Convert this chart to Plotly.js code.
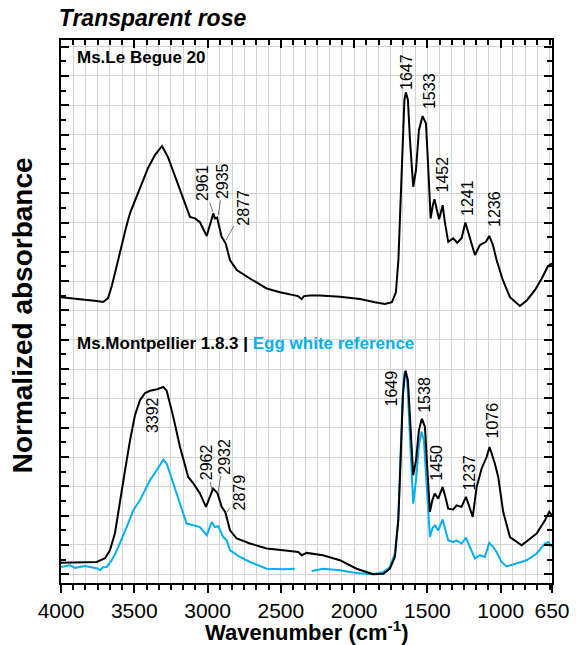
<!DOCTYPE html>
<html>
<head>
<meta charset="utf-8">
<script src="https://cdn.plot.ly/plotly-3.0.1.min.js"></script>
<style>html,body{margin:0;padding:0;background:#fff;}#chart{width:576px;height:645px;}</style>
</head>
<body>
<div id="chart"></div>
<script>
// ---- Data ----
const title = "Transparent rose";
const nameTop = "Ms.Le Begue 20";
const nameMont = "Ms.Montpellier 1.8.3";
const nameEgg = "Egg white reference";

// Ms.Le Begue 20 (offset spectrum)
const wnTop = [4000,3870,3756,3713,3679,3652,3618,3586,3557,3529,3495,3461,3406,3359,3325,3311,3270,3211,3166,3120,3086,3052,3006,2961,2950,2935,2904,2877,2847,2801,2711,2597,2506,2383,2358,2342,2301,2233,2097,1960,1858,1790,1742,1715,1698,1684,1671,1657,1647,1633,1619,1597,1578,1558,1533,1510,1497,1478,1463,1452,1435,1420,1396,1381,1358,1324,1297,1267,1241,1210,1176,1142,1101,1078,1053,1028,985,937,869,821,767,719,678,650];
const absTop = [0.945,0.939,0.932,0.929,0.942,0.986,1.055,1.130,1.181,1.232,1.276,1.321,1.386,1.430,1.454,1.461,1.423,1.345,1.287,1.219,1.214,1.201,1.154,1.231,1.214,1.217,1.151,1.129,1.072,1.038,1.009,0.975,0.962,0.949,0.939,0.949,0.951,0.951,0.947,0.939,0.928,0.922,0.928,0.962,1.072,1.276,1.481,1.618,1.644,1.618,1.481,1.322,1.379,1.515,1.563,1.538,1.413,1.214,1.259,1.279,1.242,1.211,1.259,1.201,1.134,1.146,1.131,1.146,1.200,1.151,1.089,1.123,1.134,1.154,1.123,1.072,1.003,0.945,0.915,0.935,0.969,1.010,1.051,1.061];

// Ms.Montpellier 1.8.3
const wnMont = [4000,3870,3756,3700,3666,3632,3598,3563,3529,3495,3461,3427,3393,3345,3302,3279,3234,3188,3132,3097,3052,3011,2962,2932,2904,2879,2847,2801,2711,2597,2484,2381,2358,2324,2213,2097,1983,1870,1801,1756,1722,1699,1688,1677,1667,1657,1649,1633,1619,1597,1578,1558,1538,1517,1500,1483,1466,1450,1426,1396,1377,1358,1324,1301,1267,1237,1221,1191,1164,1130,1096,1076,1040,1017,983,937,857,812,755,698,669,650];
const absMont = [0.039,0.041,0.042,0.055,0.082,0.140,0.253,0.355,0.457,0.543,0.594,0.618,0.626,0.631,0.639,0.626,0.537,0.434,0.332,0.310,0.276,0.230,0.292,0.276,0.230,0.212,0.150,0.122,0.105,0.088,0.082,0.076,0.065,0.073,0.065,0.048,0.019,0.000,0.002,0.019,0.059,0.184,0.321,0.491,0.611,0.669,0.694,0.662,0.526,0.338,0.389,0.491,0.531,0.503,0.355,0.213,0.253,0.275,0.258,0.298,0.263,0.224,0.221,0.235,0.230,0.264,0.241,0.196,0.298,0.361,0.400,0.434,0.378,0.332,0.213,0.127,0.099,0.116,0.139,0.184,0.213,0.201];

// Egg white reference (gap = removed CO2 region)
const wnEgg = [4000,3939,3905,3870,3836,3802,3746,3734,3713,3688,3654,3625,3598,3552,3507,3461,3427,3393,3347,3302,3279,3234,3188,3143,3097,3052,3006,2972,2950,2927,2893,2870,2847,2779,2711,2597,2484,2404,2350,2290,2211,2097,1983,1870,1801,1756,1722,1699,1688,1677,1667,1657,1650,1636,1619,1597,1578,1558,1540,1524,1503,1483,1466,1449,1426,1396,1377,1358,1324,1301,1267,1237,1210,1176,1142,1108,1078,1051,1028,994,960,891,823,755,698,675,650];
const absEgg = [0.025,0.031,0.022,0.024,0.028,0.025,0.019,0.014,0.024,0.025,0.048,0.075,0.105,0.161,0.218,0.253,0.287,0.321,0.355,0.391,0.378,0.310,0.241,0.173,0.167,0.161,0.133,0.178,0.161,0.164,0.127,0.116,0.082,0.059,0.042,0.019,0.017,0.019,null,0.011,0.019,0.014,0.004,0.000,0.008,0.025,0.071,0.184,0.321,0.491,0.628,0.686,0.694,0.645,0.457,0.241,0.321,0.440,0.486,0.457,0.287,0.127,0.157,0.167,0.150,0.187,0.150,0.116,0.110,0.116,0.105,0.125,0.093,0.054,0.065,0.059,0.107,0.093,0.076,0.042,0.027,0.037,0.048,0.071,0.105,0.110,0.093];

// Peak labels
const topPeaks = ["2961","2935","2877","1647","1533","1452","1241","1236"];
const montPeaks = ["3392","2962","2932","2879","1649","1538","1450","1237","1076"];

const xTickVals = [4000,3500,3000,2500,2000,1500,1000,650];
const xTickText = ["4000","3500","3000","2500","2000","1500","1000","650"];

// ---- Label placement (layout) ----
// [text x, text y, leader target x, leader target y] ; null target = no leader
const topPlace = [
  [3031,1.335,2963,1.235],
  [2893,1.342,2927,1.225],
  [2752,1.250,2874,1.140],
  [1647,1.713,null,null],
  [1490,1.648,null,null],
  [1398,1.365,null,null],
  [1231,1.283,null,null],
  [1046,1.246,null,null]
];
const montPlace = [
  [3379,0.543,null,null],
  [3011,0.382,2970,0.287],
  [2886,0.402,2929,0.280],
  [2779,0.279,2868,0.212],
  [1746,0.635,null,null],
  [1520,0.614,null,null],
  [1439,0.382,null,null],
  [1214,0.348,null,null],
  [1057,0.526,null,null]
];

const FONT = "Liberation Sans, Arial, Helvetica, sans-serif";
const CYAN = "#00B0F0";
const GRID = "#d4d4d4";

const traces = [
  {x: wnEgg, y: absEgg, type: 'scatter', mode: 'lines', line: {color: CYAN, width: 2}, connectgaps: false, hoverinfo: 'skip'},
  {x: wnMont, y: absMont, type: 'scatter', mode: 'lines', line: {color: '#000', width: 2}, hoverinfo: 'skip'},
  {x: wnTop, y: absTop, type: 'scatter', mode: 'lines', line: {color: '#000', width: 2}, hoverinfo: 'skip'}
];

const minorVals = [];
for (let v = 4000; v >= 650; v -= 500/6) minorVals.push(v);

const annotations = [];
function addLabels(labels, place) {
  labels.forEach((t, i) => {
    const p = place[i];
    if (p[2] === null) {
      annotations.push({x: p[0], y: p[1], xref: 'x', yref: 'y', text: t, showarrow: false,
        textangle: -90, xanchor: 'center', yanchor: 'middle', font: {family: FONT, size: 16, color: '#000'}});
    } else {
      annotations.push({x: p[2], y: p[3], ax: p[0], ay: p[1], axref: 'x', ayref: 'y', xref: 'x', yref: 'y',
        text: t, showarrow: true, arrowhead: 0, arrowwidth: 0.8, arrowcolor: '#555', standoff: 0, startstandoff: 0,
        textangle: -90, font: {family: FONT, size: 16, color: '#000'}});
    }
  });
}
addLabels(topPeaks, topPlace);
addLabels(montPeaks, montPlace);

annotations.push({xref: 'paper', yref: 'paper', x: 0.0285, y: 0.967, xanchor: 'left', yanchor: 'middle',
  text: '<b>' + nameTop + '</b>', showarrow: false, font: {family: FONT, size: 17, color: '#000'}});
annotations.push({xref: 'paper', yref: 'paper', x: 0.0285, y: 0.4417, xanchor: 'left', yanchor: 'middle',
  text: '<b>' + nameMont + ' | <span style="color:' + CYAN + '">' + nameEgg + '</span></b>', showarrow: false,
  font: {family: FONT, size: 17, color: '#000'}});
annotations.push({xref: 'paper', yref: 'paper', x: -0.0794, y: 0.493, xanchor: 'center', yanchor: 'middle',
  text: '<b>Normalized absorbance</b>', textangle: -90, showarrow: false, font: {family: FONT, size: 28, color: '#000'}});
annotations.push({xref: 'paper', yref: 'paper', x: 0.5, y: -0.0875, xanchor: 'center', yanchor: 'middle',
  text: '<b>Wavenumber (cm<sup>-1</sup>)</b>', showarrow: false, font: {family: FONT, size: 22, color: '#000'}});

const layout = {
  width: 576, height: 645,
  margin: {l: 61, r: 24, t: 40, b: 62},
  paper_bgcolor: '#fff', plot_bgcolor: '#fff',
  showlegend: false,
  title: {text: '<b><i>' + title + '</i></b>', xref: 'container', yref: 'container', x: 0.102, xanchor: 'left',
    y: 0.972, yanchor: 'middle', font: {family: FONT, size: 23, color: '#000'}},
  xaxis: {
    range: [4000, 650], tickmode: 'array', tickvals: xTickVals, ticktext: xTickText,
    ticks: 'outside', ticklen: 8, tickwidth: 2, tickcolor: '#000',
    showline: true, linewidth: 2, linecolor: '#000', mirror: false,
    showgrid: true, gridcolor: GRID, gridwidth: 1, zeroline: false, layer: 'above traces',
    tickfont: {family: FONT, size: 21, color: '#000'},
    minor: {tickmode: 'array', tickvals: minorVals, ticks: 'outside', ticklen: 5, tickwidth: 2, tickcolor: '#000',
      showgrid: true, gridcolor: GRID, gridwidth: 1}
  },
  xaxis2: {
    range: [4000, 650], overlaying: 'x', side: 'top', anchor: 'y', tickmode: 'array', tickvals: xTickVals,
    showticklabels: false, ticks: 'inside', ticklen: 8, tickwidth: 2, tickcolor: '#000',
    showline: true, linewidth: 2, linecolor: '#000', showgrid: false, zeroline: false,
    minor: {tickmode: 'array', tickvals: minorVals, ticks: 'inside', ticklen: 5, tickwidth: 2, tickcolor: '#000', showgrid: false}
  },
  yaxis: {
    range: [-0.0297, 1.8225], tickmode: 'linear', tick0: 0, dtick: 0.1,
    showticklabels: false, ticks: 'inside', ticklen: 8, tickwidth: 2, tickcolor: '#000',
    showline: true, linewidth: 2, linecolor: '#000', mirror: 'ticks',
    showgrid: true, gridcolor: GRID, gridwidth: 1, zeroline: false,
    minor: {tick0: 0, dtick: 0.05, ticks: 'inside', ticklen: 5, tickwidth: 2, tickcolor: '#000', showgrid: false}
  },
  annotations: annotations
};

// invisible trace so the top axis is rendered
traces.push({x: [4000], y: [null], xaxis: 'x2', yaxis: 'y', type: 'scatter', mode: 'lines', hoverinfo: 'skip', showlegend: false});

Plotly.newPlot('chart', traces, layout, {staticPlot: true, displayModeBar: false});
</script>
</body>
</html>
